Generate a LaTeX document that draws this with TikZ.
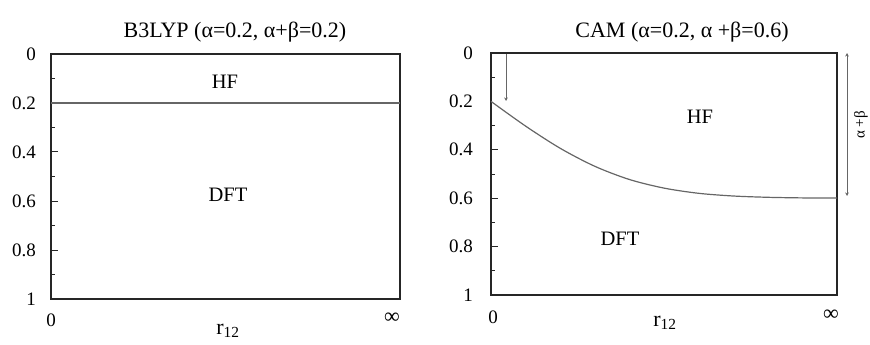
\documentclass[tikz,border=0pt]{standalone}
\usepackage{fontspec}
\setmainfont{Liberation Serif}
\usetikzlibrary{arrows.meta}
\definecolor{marco}{HTML}{262626}
\definecolor{curva}{HTML}{666666}

\begin{document}
\begin{tikzpicture}[x=1pt,y=-1pt,font=\fontsize{20.5}{24}\selectfont,
  caja/.style={marco, line width=2.6pt},
  linea/.style={curva, line width=1.2pt},
  tic/.style={marco, line width=1pt},
  eti/.style={font=\fontsize{19}{22}\selectfont, anchor=east, inner sep=0pt},
  titulo/.style={font=\fontsize{22}{26}\selectfont},
  eje/.style={font=\fontsize{22}{26}\selectfont, inner sep=0pt},
  flecha/.style={curva, line width=0.9pt}]
  \useasboundingbox (0,0) rectangle (870,345);
  % panel izquierdo: B3LYP
  \node[titulo] (tituloA) at (235,32) {B3LYP (α=0.2, α+β=0.2)};
  \draw[caja] (51,54) rectangle (400,299);
  \foreach \v/\t [count=\i] in {0/0,0.2/0.2,0.4/0.4,0.6/0.6,0.8/0.8,1/1}
    \node[eti] (ya\i) at (36,{54+245*\v}) {\t};
  \foreach \v in {0.1,0.3,0.5,0.7,0.9} \draw[tic] (51,{54+245*\v}) -- ++(4,0);
  \foreach \v in {0.4,0.6,0.8} \draw[tic] (51,{54+245*\v}) -- ++(7,0);
  \coordinate (ha) at (51,103);
  \coordinate (hb) at (400,103);
  \draw[linea] (ha) -- (hb);
  \node (hfA) at (225,82) {HF};
  \node (dftA) at (228,195) {DFT};
  \node[eti, anchor=center] (xa0) at (51,320) {0};
  \node[eje] (xa1) at (392,318) {∞};
  \node[eje] (ra) at (228,331) {r\textsubscript{12}};
  % panel derecho: CAM
  \node[titulo] (tituloB) at (682,32) {CAM (α=0.2, α +β=0.6)};
  \draw[caja] (491,53) rectangle (837,295);
  \foreach \v/\t [count=\i] in {0/0,0.2/0.2,0.4/0.4,0.6/0.6,0.8/0.8,1/1}
    \node[eti] (yb\i) at (473,{53+242*\v}) {\t};
  \foreach \v in {0.1,0.3,0.5,0.7,0.9} \draw[tic] (491,{53+242*\v}) -- ++(4,0);
  \foreach \v in {0.4,0.6,0.8} \draw[tic] (491,{53+242*\v}) -- ++(7,0);
  \draw[linea] plot[smooth] coordinates {(491,101.4) (525.6,126.1) (560.2,148.3)
    (594.8,166.3) (629.4,179.5) (664,188.1) (698.6,193.3) (733.2,196.0)
    (767.8,197.3) (802.4,197.9) (837,198.1)};
  \coordinate (a0) at (506,54);
  \coordinate (a1) at (506,101);
  \draw[flecha, -{Stealth[length=3.5pt,width=3.5pt]}] (a0) -- (a1);
  \coordinate (b0) at (847,53);
  \coordinate (b1) at (847,196);
  \draw[flecha, {Stealth[length=3.5pt,width=3.5pt]}-{Stealth[length=3.5pt,width=3.5pt]}] (b0) -- (b1);
  \node[rotate=90, font=\fontsize{15}{18}\selectfont] (ab) at (861,125) {α +β};
  \node (hfB) at (700,117) {HF};
  \node (dftB) at (620,239) {DFT};
  \node[eti, anchor=center] (xb0) at (493,317) {0};
  \node[eje] (xb1) at (831,315) {∞};
  \node[eje] (rb) at (665,323) {r\textsubscript{12}};
\end{tikzpicture}
\end{document}
